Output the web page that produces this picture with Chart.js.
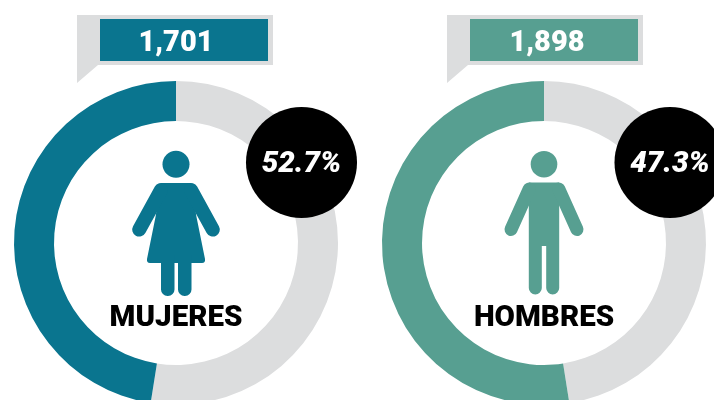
<!DOCTYPE html>
<html>
<head>
<meta charset="utf-8">
<style>
  html, body { margin: 0; padding: 0; background: #fff; }
  body { position: relative; width: 714px; height: 400px; overflow: hidden; }
  canvas { position: absolute; top: 0; }
  #chart1 { left: -24px; }
  #chart2 { left: 344px; }
</style>
</head>
<body>
<canvas id="chart1" width="400" height="486"></canvas>
<canvas id="chart2" width="400" height="486"></canvas>
<script src="https://cdn.jsdelivr.net/npm/chart.js@4"></script>
<script>
const categories = ['MUJERES', 'HOMBRES'];
const countLabels = ['1,701', '1,898'];
const shareLabels = ['52.7%', '47.3%'];
// rest of the ring first, so the coloured arc runs back from 12 o'clock
const mujeresRing = [52.5, 47.5];
const hombresRing = [47.5, 52.5];

const GREY = '#dcddde';
const TEAL = '#0a758f';
const GREEN = '#579f91';

// canvas x = page x + shift
function callout(c, shift, box, inner, color, label, textX) {
  c.fillStyle = GREY;
  c.beginPath();
  c.moveTo(box[0] + shift, box[1]);
  c.lineTo(box[2] + shift, box[1]);
  c.lineTo(box[2] + shift, box[3]);
  c.lineTo(box[0] + 21 + shift, box[3]);
  c.lineTo(box[0] + shift, 83);
  c.closePath();
  c.fill();
  c.fillStyle = color;
  c.fillRect(inner[0] + shift, inner[1], inner[2] - inner[0], inner[3] - inner[1]);
  c.fillStyle = '#fff';
  c.font = '900 29px Roboto';
  c.textAlign = 'center';
  c.fillText(label, textX + shift, 51);
}

function badge(c, x, label) {
  c.fillStyle = '#000';
  c.beginPath();
  c.arc(x, 162.5, 55.5, 0, Math.PI * 2);
  c.fill();
  c.fillStyle = '#fff';
  c.font = 'italic 900 29.5px Roboto';
  c.textAlign = 'center';
  c.fillText(label, x, 172);
}

function arms(c, cx, sx, sy, hx, hy, w) {
  c.lineCap = 'round';
  c.lineWidth = w;
  c.beginPath();
  c.moveTo(cx - sx, sy);
  c.lineTo(cx - hx, hy);
  c.moveTo(cx + sx, sy);
  c.lineTo(cx + hx, hy);
  c.stroke();
}

function woman(c, cx, color) {
  c.fillStyle = color;
  c.strokeStyle = color;
  c.beginPath();
  c.arc(cx, 164.3, 13.5, 0, Math.PI * 2);
  c.fill();
  c.beginPath();
  c.moveTo(cx - 15, 183);
  c.lineTo(cx + 15, 183);
  c.lineTo(cx + 20.5, 217);
  c.lineTo(cx + 29, 259);
  c.quadraticCurveTo(cx + 29.5, 263, cx + 26, 263);
  c.lineTo(cx - 26, 263);
  c.quadraticCurveTo(cx - 29.5, 263, cx - 29, 259);
  c.lineTo(cx - 20.5, 217);
  c.closePath();
  c.fill();
  arms(c, cx, 15, 190, 36.8, 229.6, 14);
  c.beginPath();
  c.roundRect(cx - 15, 255, 13.5, 41, [0, 0, 6.5, 6.5]);
  c.roundRect(cx + 2, 255, 13.5, 41, [0, 0, 6.5, 6.5]);
  c.fill();
}

function man(c, cx, color) {
  c.fillStyle = color;
  c.strokeStyle = color;
  c.beginPath();
  c.arc(cx, 164.2, 13.3, 0, Math.PI * 2);
  c.fill();
  c.beginPath();
  c.moveTo(cx - 15.2, 182.5);
  c.lineTo(cx + 15.2, 182.5);
  c.lineTo(cx + 15.2, 288);
  c.arc(cx + 8.7, 288, 6.5, 0, Math.PI);
  c.lineTo(cx + 2.2, 246);
  c.lineTo(cx - 2.2, 246);
  c.lineTo(cx - 2.2, 288);
  c.arc(cx - 8.7, 288, 6.5, 0, Math.PI);
  c.closePath();
  c.fill();
  arms(c, cx, 14.8, 189, 33, 229.5, 13);
}

function label(c, x, text) {
  c.fillStyle = '#000';
  c.font = '900 29.5px Roboto';
  c.textAlign = 'center';
  c.fillText(text, x, 326);
}

const extras1 = {
  id: 'extras1',
  afterDraw(chart) {
    const c = chart.ctx;
    c.save();
    callout(c, 24, [77, 15, 273, 65], [100, 19, 268, 61], TEAL, countLabels[0], 176);
    woman(c, 200, TEAL);
    label(c, 200, categories[0]);
    badge(c, 325.5, shareLabels[0]);
    c.restore();
  }
};

const extras2 = {
  id: 'extras2',
  afterDraw(chart) {
    const c = chart.ctx;
    c.save();
    callout(c, -344, [447, 15, 643, 65], [470, 19, 638, 61], GREEN, countLabels[1], 547);
    man(c, 200, GREEN);
    label(c, 200, categories[1]);
    badge(c, 326, shareLabels[1]);
    c.restore();
  }
};

function ring(id, values, color, plugin) {
  return new Chart(document.getElementById(id), {
    type: 'doughnut',
    data: {
      labels: ['resto', 'total'],
      datasets: [{
        data: values,
        backgroundColor: [GREY, color],
        borderWidth: 0,
        radius: 162,
        cutout: '75.3%'
      }]
    },
    options: {
      responsive: false,
      animation: false,
      events: [],
      plugins: { legend: { display: false }, tooltip: { enabled: false } }
    },
    plugins: [plugin]
  });
}

const chart1 = ring('chart1', mujeresRing, TEAL, extras1);
const chart2 = ring('chart2', hombresRing, GREEN, extras2);
</script>
</body>
</html>
